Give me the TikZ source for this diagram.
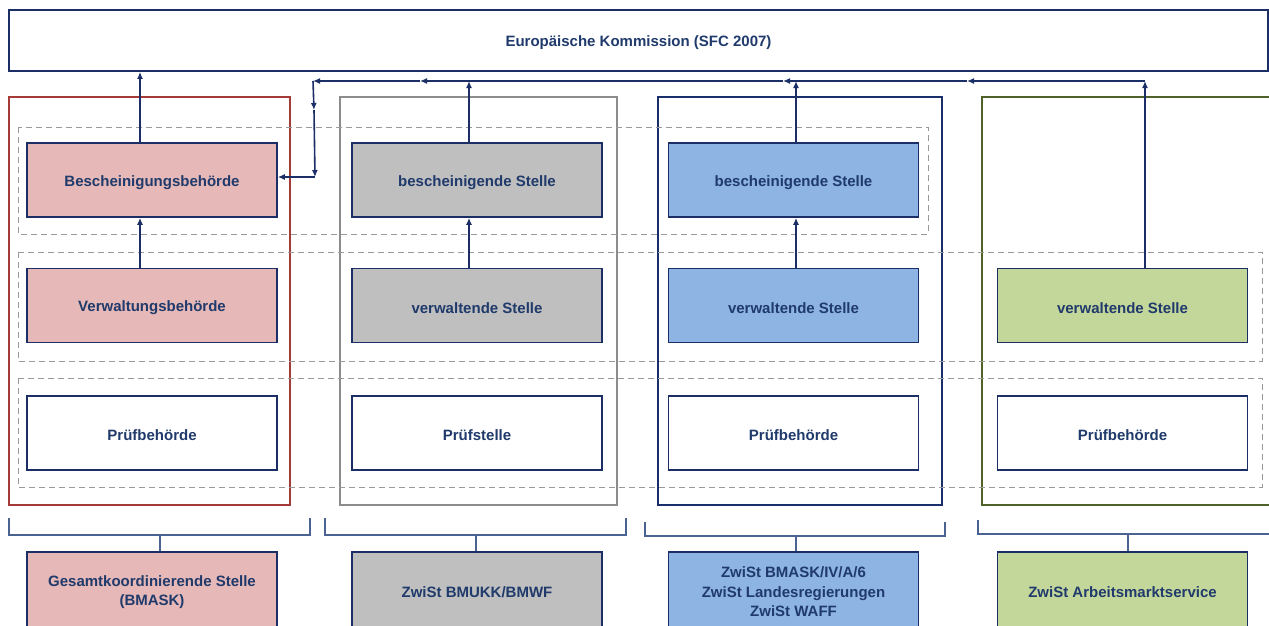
\documentclass[tikz,border=0pt]{standalone}
\usepackage{fontspec}
\setmainfont{Liberation Sans}
\usetikzlibrary{arrows.meta}
\definecolor{navy}{HTML}{1B2F66}
\definecolor{txt}{HTML}{1F3A6B}
\definecolor{redfr}{HTML}{A33B36}
\definecolor{grayfr}{HTML}{8C8C8C}
\definecolor{bluefr}{HTML}{1A2E6B}
\definecolor{greenfr}{HTML}{4F6228}
\definecolor{pinkf}{HTML}{E6B8B7}
\definecolor{grayf}{HTML}{BFBFBF}
\definecolor{bluef}{HTML}{8DB4E2}
\definecolor{greenf}{HTML}{C4D79B}
\definecolor{dashc}{HTML}{9A9A9A}
\definecolor{brk}{HTML}{4A6391}
% set a label a little below the optical centre of its box
\newcommand{\lowlabel}[1]{\raisebox{-2.5pt}[\height][\depth]{#1}}
\tikzset{
  unitbox/.style={draw=navy, line width=1.6pt, minimum width=250pt, minimum height=74pt,
    inner sep=2pt, align=center, text=txt, font=\bfseries\fontsize{15}{18.5}\selectfont},
  frame/.style={line width=1.8pt},
  rowbox/.style={draw=dashc, line width=0.9pt, dash pattern=on 6pt off 4pt},
  bracket/.style={draw=brk, line width=1.3pt},
  arr/.style={draw=navy, line width=1.6pt, -{Latex[length=7pt,width=6pt]}},
  link/.style={draw=navy, line width=1.6pt}
}
\begin{document}
\begin{tikzpicture}[x=1pt, y=-1pt]
\useasboundingbox (0,0) rectangle (1269,625);
\clip (0,0) rectangle (1269,625);

% commission bar
\node[draw=navy, line width=1.8pt, minimum width=1259pt, minimum height=61pt, inner sep=0pt,
  text=txt, font=\bfseries\fontsize{15}{18.5}\selectfont] (kom) at (638.5,40.5) {\lowlabel{Europäische Kommission (SFC 2007)}};

% column frames
\draw[frame, redfr]   (9,97) rectangle (290,505);
\draw[frame, grayfr]  (340,97) rectangle (617,505);
\draw[frame, bluefr]  (658,97) rectangle (942,505);
\draw[frame, greenfr] (1290,97) -- (982,97) -- (982,505) -- (1290,505);

% dashed function rows
\draw[rowbox] (18,127) rectangle (928,234);
\draw[rowbox] (18,252) rectangle (1262,361);
\draw[rowbox] (18,378) rectangle (1262,487);

% authorities
\node[unitbox, fill=pinkf] (b1) at (152,180) {\lowlabel{Bescheinigungsbehörde}};
\node[unitbox, fill=pinkf] (v1) at (152,305.5) {\lowlabel{Verwaltungsbehörde}};
\node[unitbox, fill=white] (p1) at (152,433) {\lowlabel{Prüfbehörde}};

\node[unitbox, fill=grayf] (b2) at (477,180) {\lowlabel{bescheinigende Stelle}};
\node[unitbox, fill=grayf] (v2) at (477,305.5) {\lowlabel{verwaltende Stelle}};
\node[unitbox, fill=white] (p2) at (477,433) {\lowlabel{Prüfstelle}};

\node[unitbox, fill=bluef] (b3) at (793.5,180) {\lowlabel{bescheinigende Stelle}};
\node[unitbox, fill=bluef] (v3) at (793.5,305.5) {\lowlabel{verwaltende Stelle}};
\node[unitbox, fill=white] (p3) at (793.5,433) {\lowlabel{Prüfbehörde}};

\node[unitbox, fill=greenf] (v4) at (1122.5,305.5) {\lowlabel{verwaltende Stelle}};
\node[unitbox, fill=white] (p4) at (1122.5,433) {\lowlabel{Prüfbehörde}};

% intermediate bodies
\node[unitbox, fill=pinkf, minimum height=80pt] (z1) at (152,592) {Gesamtkoordinierende Stelle\\(BMASK)};
\node[unitbox, fill=grayf, minimum height=80pt] (z2) at (477,592) {ZwiSt BMUKK/BMWF};
\node[unitbox, fill=bluef, minimum height=80pt, font=\bfseries\fontsize{15}{19.5}\selectfont] (z3) at (793.5,592) {ZwiSt BMASK/IV/A/6\\ZwiSt Landesregierungen\\ZwiSt WAFF};
\node[unitbox, fill=greenf, minimum height=80pt] (z4) at (1122.5,592) {ZwiSt Arbeitsmarktservice};

% brackets grouping each column
\draw[bracket] (9,518) -- (9,535) -- (310,535) -- (310,518);
\draw[bracket] (325,518) -- (325,535) -- (626,535) -- (626,518);
\draw[bracket] (645,522) -- (645,536) -- (945,536) -- (945,522);
\draw[bracket] (978,520) -- (978,534) -- (1290,534);
\draw[bracket] (160,535) -- (z1.north -| 160,0);
\draw[bracket] (476,535) -- (z2.north -| 476,0);
\draw[bracket] (796,536) -- (z3.north -| 796,0);
\draw[bracket] (1128,534) -- (z4.north -| 1128,0);

% reporting lines
\draw[arr] ([xshift=-12pt]v1.north) -- ([xshift=-12pt]b1.south);
\draw[arr] ([xshift=-12pt]b1.north) -- ([xshift=-12pt]b1.north |- kom.south);
\draw[arr] ([xshift=-8pt]v2.north) -- ([xshift=-8pt]b2.south);
\draw[arr] ([xshift=2.5pt]v3.north) -- ([xshift=2.5pt]b3.south);

\coordinate (j4) at (1145,81);
\coordinate (a1) at (967,81);
\coordinate (j3) at (796,81);
\coordinate (a2) at (783,81);
\coordinate (a3) at (602,81);
\coordinate (j2) at (469,81);
\coordinate (a4) at (420,81);
\coordinate (jc) at (313,81);
\coordinate (jm) at (314,110);
\coordinate (jd) at (315,177);

\draw[arr] ([xshift=-8pt]b2.north) -- (j2);
\draw[arr] ([xshift=2.5pt]b3.north) -- (j3);
\draw[arr] ([xshift=22.5pt]v4.north) -- (j4);

\draw[arr] (j4) -- (a1);
\draw[arr] (a1) -- (a2);
\draw[link] (a2) -- (a3);
\draw[arr] (a3) -- (a4);
\draw[arr] (a4) -- (jc);
\draw[arr] (jc) -- (jm);
\draw[arr] (jm) -- (jd);
\draw[arr] (jd) -- (b1.east |- jd);
\end{tikzpicture}
\end{document}
